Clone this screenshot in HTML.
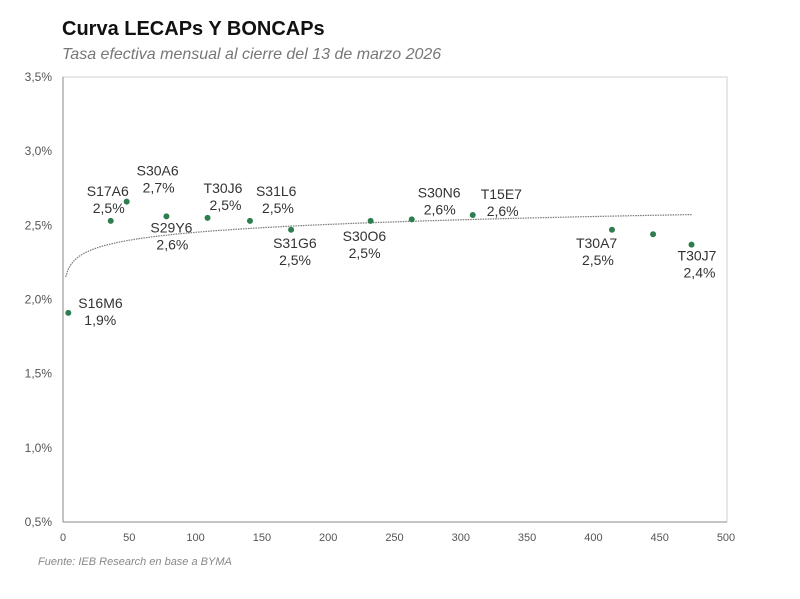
<!DOCTYPE html>
<html><head><meta charset="utf-8"><style>
body{margin:0;background:#fff;font-family:"Liberation Sans",sans-serif;}
</style></head><body>
<svg width="800" height="594" xmlns="http://www.w3.org/2000/svg">
<text x="62" y="35" font-size="20" font-weight="bold" fill="#111">Curva LECAPs Y BONCAPs</text>
<text x="62" y="59" font-size="16" font-style="italic" fill="#777">Tasa efectiva mensual al cierre del 13 de marzo 2026</text>
<text x="38" y="565" font-size="11" font-style="italic" fill="#888">Fuente: IEB Research en base a BYMA</text>
<rect x="63" y="77" width="664" height="445" fill="none" stroke="#d0d0d0"/>
<g id="axes"></g><g id="trend"></g><g id="pts"></g>
</svg>
<script>
const names=["S16M6","S17A6","S30A6","S29Y6","T30J6","S31L6","S31G6","S30O6","S30N6","T15E7","T30A7","","T30J7"];
const days=[4,36,48,78,109,141,172,232,263,309,414,445,474];
const rates=[1.91,2.53,2.66,2.56,2.55,2.53,2.47,2.53,2.54,2.57,2.47,2.44,2.37];
const labels=["1,9%","2,5%","2,7%","2,6%","2,5%","2,5%","2,5%","2,5%","2,6%","2,6%","2,5%","","2,4%"];
const xTicks=[0,50,100,150,200,250,300,350,400,450,500];
const yTicks=[0.5,1.0,1.5,2.0,2.5,3.0,3.5];
const yTickLabels=["0,5%","1,0%","1,5%","2,0%","2,5%","3,0%","3,5%"];
const NS="http://www.w3.org/2000/svg";
const X=d=>63+d*663/500, Y=v=>522-(v-0.5)*445/3;
const offs=[[10,-5],[-24,-25],[10,-26],[-16,16],[-4,-25],[6,-25],[-18,18],[-28,20],[6,-22],[8,-16],[-36,18],[0,0],[-14,16]];
function mk(tag,attrs,parent){const e=document.createElementNS(NS,tag);for(const k in attrs)e.setAttribute(k,attrs[k]);parent.appendChild(e);return e;}
const ax=document.getElementById('axes');
mk('line',{x1:63,y1:77,x2:63,y2:522,stroke:'#888'},ax);
mk('line',{x1:63,y1:522,x2:727,y2:522,stroke:'#888'},ax);
xTicks.forEach(t=>{const e=mk('text',{x:X(t),y:541,'font-size':11,fill:'#555','text-anchor':'middle'},ax);e.textContent=t;

});
yTicks.forEach((t,i)=>{const e=mk('text',{x:52,y:Y(t)+4,'font-size':12,fill:'#555','text-anchor':'end'},ax);e.textContent=yTickLabels[i];

});
// log trend fitted to the data
let n=days.length,sx=0,sy=0,sxx=0,sxy=0;
days.forEach((d,i)=>{const l=Math.log(d);sx+=l;sy+=rates[i];sxx+=l*l;sxy+=l*rates[i];});
const b=(n*sxy-sx*sy)/(n*sxx-sx*sx),a=(sy-b*sx)/n;
let p="";for(let d=2;d<=474;d+=2){p+=(p?"L":"M")+X(d).toFixed(1)+","+Y(a+b*Math.log(d)).toFixed(1);}
const tr=mk('path',{d:p,fill:'none',stroke:'#777','stroke-width':1.2,'stroke-dasharray':'1.5,1'},document.getElementById('trend'));


const pg=document.getElementById('pts');
days.forEach((d,i)=>{const c=mk('circle',{cx:X(d),cy:Y(rates[i]),r:3,fill:'#2e7d4f'},pg);


if(names[i]){const lx=X(d)+offs[i][0],ly=Y(rates[i])+offs[i][1];
const t=mk('text',{x:lx,y:ly,'font-size':14,fill:'#333'},pg);t.textContent=names[i];


const t2=mk('text',{x:lx+6,y:ly+17,'font-size':14,fill:'#333'},pg);t2.textContent=labels[i];

}});
</script>
</body></html>
